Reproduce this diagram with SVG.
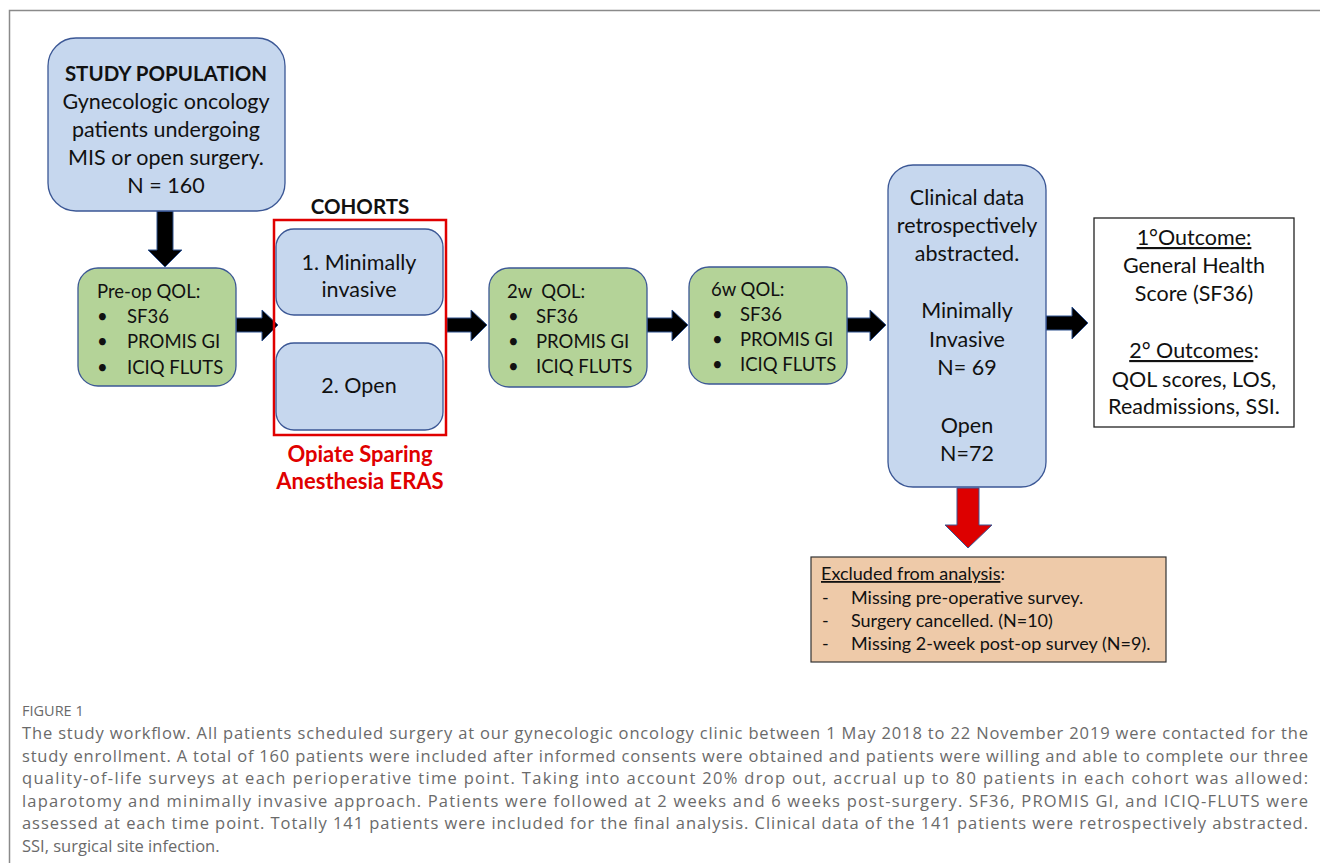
<svg xmlns="http://www.w3.org/2000/svg" width="1320" height="863" viewBox="0 0 1320 863">
<style>
.t{font-family:Lato,"Liberation Sans",sans-serif;font-size:21.5px;fill:#111}
.s{font-family:Lato,"Liberation Sans",sans-serif;font-size:18.5px;fill:#111}
.x{font-family:Lato,"Liberation Sans",sans-serif;font-size:18px;fill:#111}
.b{font-weight:bold;font-size:20.5px}
.r{font-weight:bold;font-size:22px;fill:#e00000}
.c{text-anchor:middle}
.blue{fill:#c6d7ee;stroke:#3b5795;stroke-width:1.3}
.green{fill:#b4d398;stroke:#3b5795;stroke-width:1.3}
.arr{fill:#000;stroke:#2f528f;stroke-width:1}
.cap{font-family:"Open Sans",Lato,"Liberation Sans",sans-serif;font-size:16.5px;fill:#6a6a6a}
</style>
<rect width="1320" height="863" fill="#fff"/>
<path d="M9.5,863 V10.5 H1320" fill="none" stroke="#8a8a8a" stroke-width="1.5"/>

<g id="connectors">
<polygon class="arr" points="157,211 173,211 173,250 182,250 165,267 148,250 157,250"/>
<polygon class="arr" points="236,318 262,318 262,310 278,325 262,341 262,332 236,332"/>
<polygon class="arr" points="447,318 471,318 471,310 487,325 471,341 471,332 447,332"/>
<polygon class="arr" points="647,318 672,318 672,310 688,325 672,341 672,332 647,332"/>
<polygon class="arr" points="847,318 870,318 870,310 886,325 870,341 870,332 847,332"/>
<polygon class="arr" points="1046,316 1072,316 1072,307 1088,323 1072,339 1072,330 1046,330"/>
<polygon points="957,488 979,488 979,525 992,525 968,548 945,525 957,525" fill="#dd0000" stroke="#3b5795" stroke-width="1"/>
</g>

<g id="study-population">
<rect class="blue" x="48" y="38" width="237" height="173" rx="28"/>
<text class="t c b" x="166" y="81">STUDY POPULATION</text>
<text class="t c" x="166" y="109">Gynecologic oncology</text>
<text class="t c" x="166" y="137">patients undergoing</text>
<text class="t c" x="166" y="165">MIS or open surgery.</text>
<text class="t c" x="166" y="193">N = 160</text>
</g>

<g id="preop">
<rect class="green" x="78" y="268" width="158" height="118" rx="20"/>
<text class="s" x="97" y="298">Pre-op QOL:</text>
<text class="s" x="97" y="323">•</text><text class="s" x="127" y="323">SF36</text>
<text class="s" x="97" y="348">•</text><text class="s" x="127" y="348">PROMIS GI</text>
<text class="s" x="97" y="374">•</text><text class="s" x="127" y="374">ICIQ FLUTS</text>
</g>

<g id="cohorts">
<text class="t c b" x="360" y="214">COHORTS</text>
<rect x="274" y="220" width="172" height="215" fill="none" stroke="#e00000" stroke-width="2.5"/>
<rect class="blue" x="276" y="229" width="167" height="86" rx="18"/>
<text class="t c" x="359" y="270">1. Minimally</text>
<text class="t c" x="359" y="297">invasive</text>
<rect class="blue" x="276" y="343" width="167" height="87" rx="18"/>
<text class="t c" x="359" y="393">2. Open</text>
<text class="t c r" x="360" y="462">Opiate Sparing</text>
<text class="t c r" x="360" y="489">Anesthesia ERAS</text>
</g>

<g id="qol2w">
<rect class="green" x="489" y="268" width="158" height="119" rx="20"/>
<text class="s" x="507" y="298">2w&#160; QOL:</text>
<text class="s" x="508" y="323">•</text><text class="s" x="536" y="323">SF36</text>
<text class="s" x="508" y="348">•</text><text class="s" x="536" y="348">PROMIS GI</text>
<text class="s" x="508" y="373">•</text><text class="s" x="536" y="373">ICIQ FLUTS</text>
</g>

<g id="qol6w">
<rect class="green" x="689" y="267" width="158" height="117" rx="20"/>
<text class="s" x="711" y="296">6w QOL:</text>
<text class="s" x="712" y="321">•</text><text class="s" x="740" y="321">SF36</text>
<text class="s" x="712" y="346">•</text><text class="s" x="740" y="346">PROMIS GI</text>
<text class="s" x="712" y="371">•</text><text class="s" x="740" y="371">ICIQ FLUTS</text>
</g>

<g id="clinical">
<rect class="blue" x="888" y="165" width="158" height="322" rx="25"/>
<text class="t c" x="967" y="205">Clinical data</text>
<text class="t c" x="967" y="233">retrospectively</text>
<text class="t c" x="967" y="261">abstracted.</text>
<text class="t c" x="967" y="318">Minimally</text>
<text class="t c" x="967" y="347">Invasive</text>
<text class="t c" x="967" y="375">N= 69</text>
<text class="t c" x="967" y="433">Open</text>
<text class="t c" x="967" y="461">N=72</text>
</g>

<g id="outcomes">
<rect x="1094" y="218" width="200" height="209" fill="#fff" stroke="#222" stroke-width="1.3"/>
<text class="t c" x="1194" y="245" text-decoration="underline">1°Outcome:</text>
<text class="t c" x="1194" y="273">General Health</text>
<text class="t c" x="1194" y="301">Score (SF36)</text>
<text class="t c" x="1194" y="358"><tspan text-decoration="underline">2° Outcomes</tspan>:</text>
<text class="t c" x="1194" y="387">QOL scores, LOS,</text>
<text class="t c" x="1194" y="414">Readmissions, SSI.</text>
</g>

<g id="excluded">
<rect x="811" y="557" width="355" height="105" fill="#eecaa9" stroke="#333" stroke-width="1.2"/>
<text class="x" x="821" y="580"><tspan text-decoration="underline">Excluded from analysis</tspan>:</text>
<text class="x" x="822" y="604">-</text><text class="x" x="851" y="604">Missing pre-operative survey.</text>
<text class="x" x="822" y="627">-</text><text class="x" x="851" y="627">Surgery cancelled. (N=10)</text>
<text class="x" x="822" y="650">-</text><text class="x" x="851" y="650">Missing 2-week post-op survey (N=9).</text>
</g>

<g id="caption">
<text class="cap" x="22" y="716" style="font-size:14.5px">FIGURE 1</text>
<text class="cap" x="22" y="739" textLength="1286" lengthAdjust="spacing">The study workflow. All patients scheduled surgery at our gynecologic oncology clinic between 1 May 2018 to 22 November 2019 were contacted for the</text>
<text class="cap" x="22" y="762" textLength="1286" lengthAdjust="spacing">study enrollment. A total of 160 patients were included after informed consents were obtained and patients were willing and able to complete our three</text>
<text class="cap" x="22" y="784" textLength="1286" lengthAdjust="spacing">quality-of-life surveys at each perioperative time point. Taking into account 20% drop out, accrual up to 80 patients in each cohort was allowed:</text>
<text class="cap" x="22" y="807" textLength="1286" lengthAdjust="spacing">laparotomy and minimally invasive approach. Patients were followed at 2 weeks and 6 weeks post-surgery. SF36, PROMIS GI, and ICIQ-FLUTS were</text>
<text class="cap" x="22" y="829" textLength="1286" lengthAdjust="spacing">assessed at each time point. Totally 141 patients were included for the final analysis. Clinical data of the 141 patients were retrospectively abstracted.</text>
<text class="cap" x="22" y="852">SSI, surgical site infection.</text>
</g>
</svg>
